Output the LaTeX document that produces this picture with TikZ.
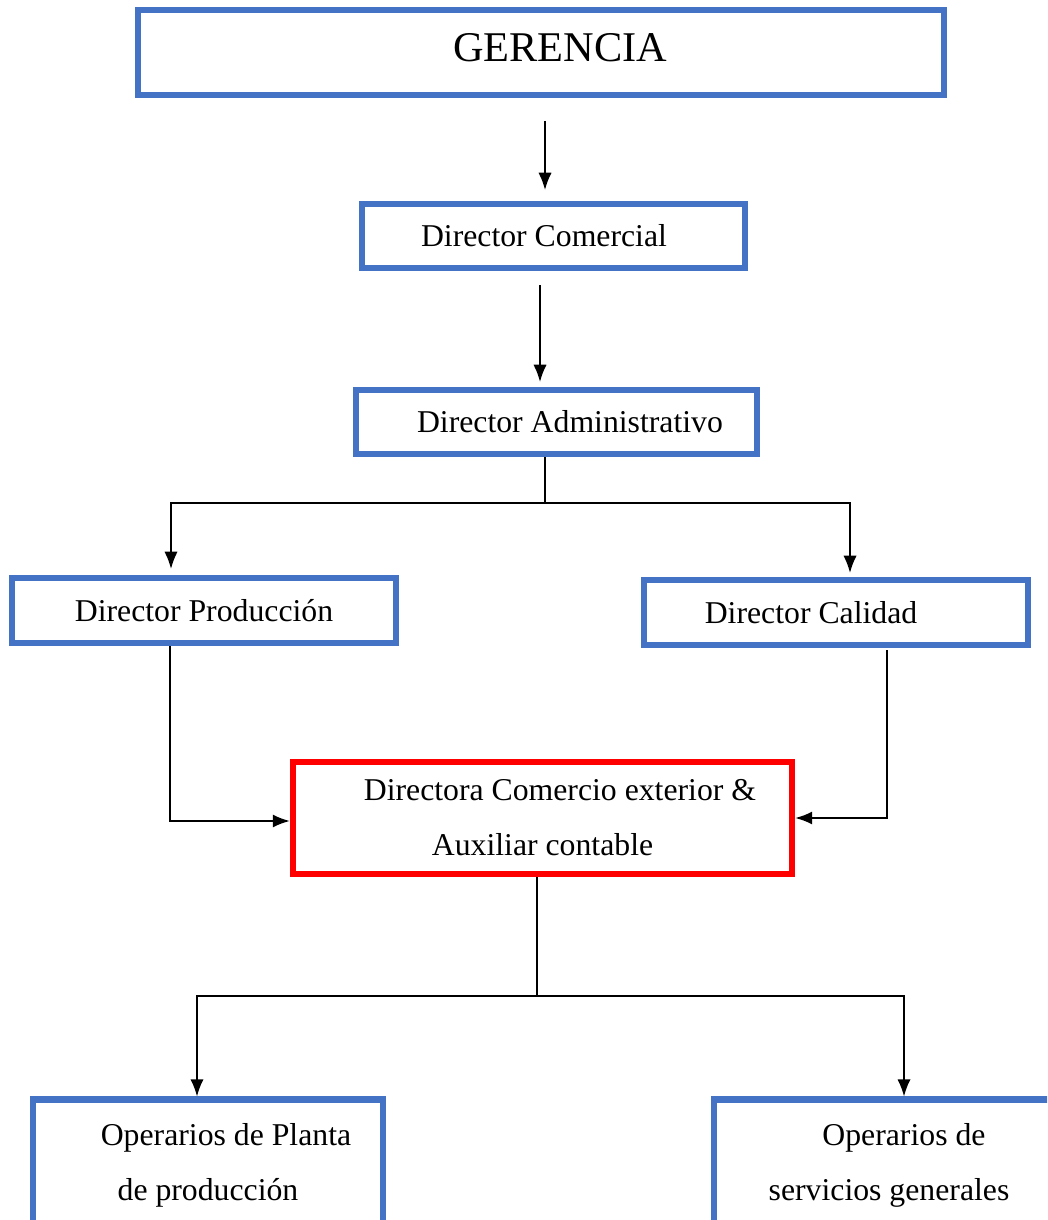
\documentclass[tikz,border=0pt]{standalone}
\usepackage{fontspec}
\setmainfont{Liberation Serif}
\usepackage{tikz}
\usepackage{xcolor}
\usetikzlibrary{arrows.meta}
\usetikzlibrary{calc}
\definecolor{boxblue}{HTML}{4472C4}

\begin{document}
\begin{tikzpicture}[x=0.378pt, y=-0.378pt,
		bluebox/.style={draw=boxblue, line width=2.3pt, rectangle, inner sep=0pt, align=center, font=\fontsize{12}{20.8}\selectfont},
		redbox/.style={bluebox, draw=red},
		arr/.style={-{Latex[length=6.5pt, width=5pt]}, line width=0.6pt}]
				\useasboundingbox (0,0) rectangle (1047,1220);
				\clip (0,0) rectangle (1047,1220);
				\node[bluebox, minimum width=304.7pt, minimum height=32.1pt, text depth=4pt, font=\fontsize{16}{19}\selectfont] (ger) at (541, 52.5) {\hspace*{14.4pt}GERENCIA};
				\node[bluebox, minimum width=144.8pt, minimum height=24.2pt] (com) at (553.5, 236) {Director Comercial\hspace*{7.2pt}};
				\node[bluebox, minimum width=151.6pt, minimum height=24.2pt] (adm) at (556.5, 422) {\hspace*{10.2pt}Director Administrativo};
				\node[bluebox, minimum width=145.2pt, minimum height=24.6pt] (prod) at (204, 610.5) {Director Producción};
				\node[bluebox, minimum width=145.2pt, minimum height=24.6pt] (cal) at (836, 612.5) {Director Calidad\hspace*{18.9pt}};
				\node[redbox, minimum width=188.6pt, minimum height=42.3pt] (dce) at (542.5, 818) {\hspace*{13.2pt}Directora Comercio exterior \&\\Auxiliar contable};
				\node[bluebox, minimum width=132.3pt, minimum height=49.5pt] (opp) at (208, 1165) {\hspace*{13.6pt}Operarios de Planta\\de producción};
				\node[bluebox, minimum width=132.3pt, minimum height=49.5pt] (ops) at (889, 1165) {\hspace*{11.3pt}Operarios de\\servicios generales};
				\draw[arr] ($(ger.south)+(4,23)$) -- ($(com.north)+(-8.5,-11)$);
				\draw[arr] ($(com.south)+(-13.5,14)$) -- ($(adm.north)+(-16.5,-5)$);
				\coordinate (ja) at (545, 503);
				\draw[line width=0.6pt] (adm.south -| ja) -- (ja);
				\draw[arr] (ja) -| ($(prod.north)+(-33,-6)$);
				\draw[arr] (ja) -| ($(cal.north)+(14,-4)$);
				\draw[arr, line width=0.9pt] ($(prod.south)+(-34,0)$) |- ($(dce.west)+(0,3)$);
				\draw[arr, line width=0.9pt] ($(cal.south)+(51,2)$) |- (dce.east);
				\coordinate (jb) at (537, 996);
				\draw[line width=0.6pt] (dce.south -| jb) -- (jb);
				\draw[arr] (jb) -| ($(opp.north)+(-11,0)$);
				\draw[arr] (jb) -| ($(ops.north)+(15,0)$);
\end{tikzpicture}
\end{document}
